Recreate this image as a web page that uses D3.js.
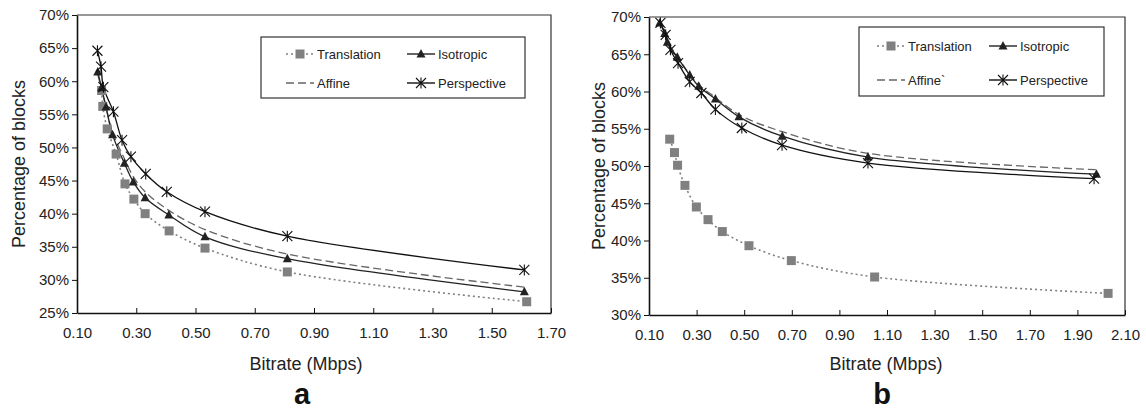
<!DOCTYPE html>
<html><head><meta charset="utf-8">
<script src="https://cdn.jsdelivr.net/npm/d3@7/dist/d3.min.js"></script>
<style>body{margin:0;background:#fff;} svg{display:block;font-family:"Liberation Sans",Arial,sans-serif;}</style>
</head><body>
<svg id="chart" width="1146" height="411"></svg>
<script>
// ---------- Data: panel a ----------
const aTransX = [0.183,0.187,0.202,0.232,0.262,0.292,0.330,0.411,0.532,0.810,1.618];
const aTransY = [58.6,56.2,52.8,49.0,44.5,42.2,40.0,37.4,34.8,31.2,26.7];
const aIsoX   = [0.170,0.183,0.198,0.220,0.260,0.290,0.330,0.410,0.532,0.810,1.610];
const aIsoY   = [61.4,59.0,56.1,51.9,47.6,44.8,42.4,39.8,36.5,33.2,28.2];
const aAffX   = [0.170,0.183,0.198,0.220,0.260,0.290,0.330,0.410,0.532,0.810,1.610];
const aAffY   = [61.0,58.8,56.0,52.3,48.3,45.6,43.3,40.5,37.6,33.9,28.9];
const aPerX   = [0.169,0.181,0.189,0.223,0.252,0.282,0.332,0.403,0.532,0.810,1.610];
const aPerY   = [64.6,62.2,59.1,55.4,51.1,48.6,46.0,43.3,40.3,36.6,31.5];
const aXTicks = [0.10,0.30,0.50,0.70,0.90,1.10,1.30,1.50,1.70];
const aYTicks = [25,30,35,40,45,50,55,60,65,70];

// ---------- Data: panel b ----------
const bTransX = [0.187,0.207,0.220,0.251,0.299,0.348,0.408,0.520,0.698,1.048,2.029];
const bTransY = [53.6,51.8,50.1,47.4,44.5,42.8,41.2,39.3,37.3,35.1,32.9];
const bIsoX   = [0.145,0.166,0.177,0.219,0.271,0.309,0.379,0.478,0.660,1.020,1.980];
const bIsoY   = [69.2,67.8,66.6,64.6,62.2,60.7,59.0,56.6,54.0,51.2,48.9];
const bAffX   = [0.145,0.166,0.177,0.219,0.271,0.309,0.379,0.478,0.660,1.020,1.980];
const bAffY   = [69.3,67.9,66.8,64.7,62.3,60.9,59.2,56.9,54.6,51.7,49.5];
const bPerX   = [0.148,0.170,0.190,0.222,0.271,0.320,0.379,0.490,0.659,1.020,1.970];
const bPerY   = [69.2,67.6,65.6,63.8,61.3,59.8,57.6,55.1,52.8,50.4,48.3];
const bXTicks = [0.10,0.30,0.50,0.70,0.90,1.10,1.30,1.50,1.70,1.90,2.10];
const bYTicks = [30,35,40,45,50,55,60,65,70];

const seriesNames = ["Translation","Isotropic","Affine","Perspective"];
const seriesNamesB = ["Translation","Isotropic","Affine`","Perspective"];

const svg = d3.select("#chart");

function zip(xs, ys){ return xs.map((x,i)=>({x, y: ys[i]})); }

function starPath(s){
  const r = s/2;
  return `M${-r},${-r}L${r},${r}M${-r},${r}L${r},${-r}M0,${-r*1.1}L0,${r*1.1}`;
}

function drawMarker(g, type, x, y){
  if(type==="square"){
    g.append("rect").attr("x",x-4.5).attr("y",y-4.5).attr("width",9).attr("height",9).attr("fill","#808080");
  } else if(type==="tri"){
    g.append("path").attr("d",`M${x},${y-5}L${x+4.5},${y+3.5}L${x-4.5},${y+3.5}Z`).attr("fill","#222");
  } else if(type==="star"){
    g.append("path").attr("transform",`translate(${x},${y})`).attr("d",starPath(10)).attr("stroke","#111").attr("stroke-width",1.1).attr("fill","none");
  }
}

function drawPanel(cfg){
  const x = d3.scaleLinear().domain([cfg.xTicks[0], cfg.xTicks[cfg.xTicks.length-1]]).range([cfg.left, cfg.right]);
  const y = d3.scaleLinear().domain([cfg.yTicks[0], cfg.yTicks[cfg.yTicks.length-1]]).range([cfg.bottom, cfg.top]);
  const g = svg.append("g");

  // frame (top/right)
  g.append("path").attr("d",`M${cfg.left},${cfg.top}H${cfg.right}V${cfg.bottom}`).attr("fill","none").attr("stroke","#333").attr("stroke-width",1.2);

  // x axis
  const xAxis = d3.axisBottom(x).tickValues(cfg.xTicks).tickFormat(d3.format(".2f")).tickSizeInner(-5).tickSizeOuter(0).tickPadding(14);
  const gx = g.append("g").attr("transform",`translate(0,${cfg.bottom})`).call(xAxis);
  gx.select(".domain").attr("stroke","#111").attr("stroke-width",1.6);
  gx.selectAll(".tick line").attr("stroke","#111");
  gx.selectAll(".tick text").attr("font-size",15).attr("fill","#222").attr("font-family","Liberation Sans, Arial, sans-serif");

  // y axis
  const yAxis = d3.axisLeft(y).tickValues(cfg.yTicks).tickFormat(d=>d+"%").tickSizeInner(5).tickSizeOuter(0).tickPadding(3);
  const gy = g.append("g").attr("transform",`translate(${cfg.left},0)`).call(yAxis);
  gy.select(".domain").attr("stroke","#111").attr("stroke-width",1.6);
  gy.selectAll(".tick line").attr("stroke","#111");
  gy.selectAll(".tick text").attr("font-size",15).attr("fill","#222").attr("font-family","Liberation Sans, Arial, sans-serif");

  // titles
  g.append("text").attr("x",cfg.xTitleX).attr("y",370).attr("text-anchor","middle").attr("font-size",18).attr("fill","#222").text("Bitrate (Mbps)");
  g.append("text").attr("transform",`translate(${cfg.yTitleX},${(cfg.top+cfg.bottom)/2}) rotate(-90)`).attr("text-anchor","middle").attr("font-size",18).attr("fill","#222").text("Percentage of blocks");
  g.append("text").attr("x",cfg.xTitleX-4).attr("y",404).attr("text-anchor","middle").attr("font-size",29).attr("font-weight","bold").attr("fill","#111").text(cfg.letter);

  const line = d3.line().x(d=>x(d.x)).y(d=>y(d.y)).curve(d3.curveCatmullRom.alpha(0.5));

  const styles = [
    {data: zip(cfg.transX,cfg.transY), stroke:"#808080", dash:"2,3", width:1.6, marker:"square"},
    {data: zip(cfg.affX,cfg.affY), stroke:"#666", dash:"8,4", width:1.3, marker:null},
    {data: zip(cfg.isoX,cfg.isoY), stroke:"#222", dash:null, width:1.3, marker:"tri"},
    {data: zip(cfg.perX,cfg.perY), stroke:"#111", dash:null, width:1.3, marker:"star"}
  ];
  styles.forEach(s=>{
    g.append("path").attr("d",line(s.data)).attr("fill","none").attr("stroke",s.stroke).attr("stroke-width",s.width).attr("stroke-dasharray",s.dash);
  });
  styles.forEach(s=>{
    if(s.marker) s.data.forEach(d=>drawMarker(g, s.marker, x(d.x), y(d.y)));
  });

  // legend
  const L = cfg.legend;
  g.append("rect").attr("x",L.x).attr("y",L.y).attr("width",L.w).attr("height",L.h).attr("fill","#fff").attr("stroke","#333").attr("stroke-width",1.2);
  const entries = [
    {name:cfg.names[0], col:0,row:0, stroke:"#808080", dash:"2,3", marker:"square"},
    {name:cfg.names[1], col:1,row:0, stroke:"#222", dash:null, marker:"tri"},
    {name:cfg.names[2], col:0,row:1, stroke:"#666", dash:"8,4", marker:null},
    {name:cfg.names[3], col:1,row:1, stroke:"#111", dash:null, marker:"star"}
  ];
  entries.forEach(e=>{
    const sx = L.colX[e.col], sy = L.rowY[e.row];
    g.append("line").attr("x1",sx).attr("x2",sx+28).attr("y1",sy).attr("y2",sy).attr("stroke",e.stroke).attr("stroke-width",1.4).attr("stroke-dasharray",e.dash);
    if(e.marker) drawMarker(g, e.marker, sx+14, sy);
    g.append("text").attr("x",sx+31).attr("y",sy+4.5).attr("font-size",13).attr("fill","#222").text(e.name);
  });
}

drawPanel({
  left:77, right:551, top:15, bottom:313,
  xTicks:aXTicks, yTicks:aYTicks,
  transX:aTransX, transY:aTransY, isoX:aIsoX, isoY:aIsoY, affX:aAffX, affY:aAffY, perX:aPerX, perY:aPerY,
  xTitleX:306, yTitleX:25, letter:"a", names:seriesNames,
  legend:{x:261,y:37,w:264,h:61, colX:[286,407], rowY:[54,83]}
});
drawPanel({
  left:649, right:1125, top:17, bottom:315,
  xTicks:bXTicks, yTicks:bYTicks,
  transX:bTransX, transY:bTransY, isoX:bIsoX, isoY:bIsoY, affX:bAffX, affY:bAffY, perX:bPerX, perY:bPerY,
  xTitleX:886, yTitleX:605, letter:"b", names:seriesNamesB,
  legend:{x:859,y:27,w:245,h:69, colX:[877,989], rowY:[46,80]}
});
</script>
</body></html>
